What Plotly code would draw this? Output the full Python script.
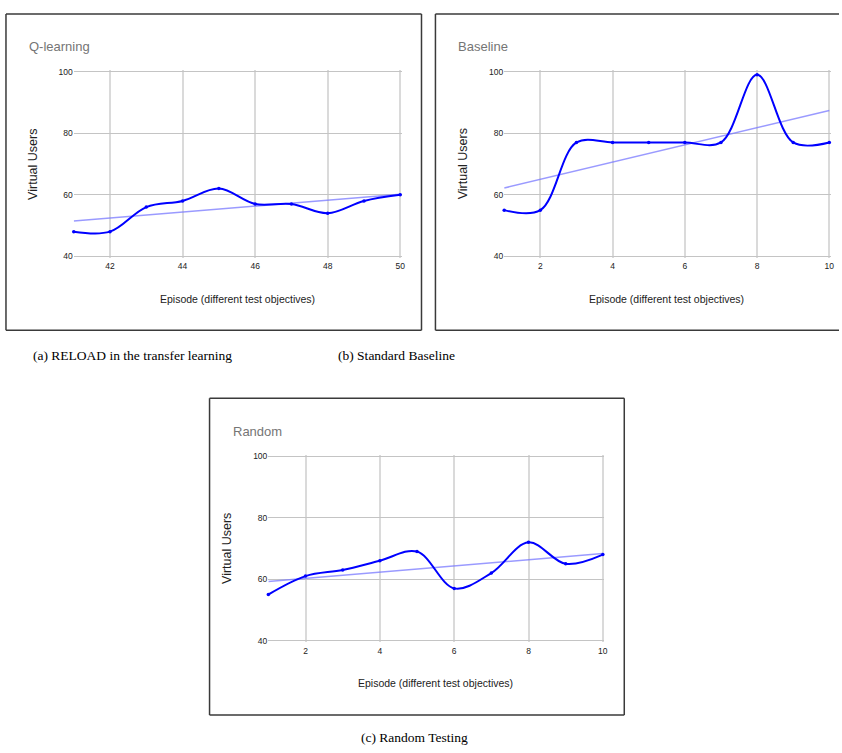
import numpy as np
import plotly.graph_objects as go

# ---------------- data ----------------
episodes_a = [41, 42, 43, 44, 45, 46, 47, 48, 49, 50]
users_a = [48, 48, 56, 58, 62, 57, 57, 54, 58, 60]

episodes_b = [1, 2, 3, 4, 5, 6, 7, 8, 9, 10]
users_b = [55, 55, 77, 77, 77, 77, 77, 99, 77, 77]

episodes_c = [1, 2, 3, 4, 5, 6, 7, 8, 9, 10]
users_c = [55, 61, 63, 66, 69, 57, 62, 72, 65, 68]

titles = ["Q-learning", "Baseline", "Random"]
captions = ["(a) RELOAD in the transfer learning", "(b) Standard Baseline", "(c) Random Testing"]
x_ticks_a = [42, 44, 46, 48, 50]
x_ticks_bc = [2, 4, 6, 8, 10]
y_ticks = [40, 60, 80, 100]
x_title = "Episode (different test objectives)"
y_title = "Virtual Users"

W, H = 842, 753


def px(x):
    return x / W


def py(y):
    return 1 - y / H


SANS = "Liberation Sans, Arial, sans-serif"
SERIF = "Liberation Serif, Times New Roman, serif"

fig = go.Figure()

panels = [
    dict(x=episodes_a, y=users_a, area=(74, 401.7, 69.3, 255.3), box=(6, 423, 11, 330),
         xr=[41, 50], xt=x_ticks_a, title=titles[0], tpos=(27, 44), right=True),
    dict(x=episodes_b, y=users_b, area=(506, 832.3, 69.3, 255.3), box=(437, 842, 11, 330),
         xr=[1, 10], xt=x_ticks_bc, title=titles[1], tpos=(458, 44), right=False),
    dict(x=episodes_c, y=users_c, area=(269.3, 605, 457, 642.7), box=(210.3, 626.5, 398.3, 717.7),
         xr=[1, 10], xt=x_ticks_bc, title=titles[2], tpos=(232, 432), right=True),
]

PAD = 1.6  # px of extra room so edge gridlines are drawn
layout = {}
annotations = []
shapes = []
for i, p in enumerate(panels):
    n = "" if i == 0 else str(i + 1)
    xa, ya = "x" + n, "y" + n
    l, r, t, b = p["area"]
    xs = np.array(p["x"], dtype=float)
    ys = np.array(p["y"], dtype=float)
    k, c0 = np.polyfit(xs, ys, 1)
    trend_x = [p["xr"][0], p["xr"][1]]
    trend_y = [k * v + c0 for v in trend_x]
    fig.add_trace(go.Scatter(x=trend_x, y=trend_y, mode="lines", xaxis=xa, yaxis=ya,
                             line=dict(color="rgba(120,120,255,0.75)", width=1.5),
                             showlegend=False, hoverinfo="skip"))
    fig.add_trace(go.Scatter(x=p["x"], y=p["y"], mode="lines+markers", xaxis=xa, yaxis=ya,
                             line=dict(color="#0000ff", width=2, shape="spline", smoothing=1.0),
                             marker=dict(color="#0000ff", size=3.5),
                             showlegend=False, cliponaxis=False))
    xppu = (r - l) / (p["xr"][1] - p["xr"][0])
    yppu = (b - t) / 60.0
    dx = PAD / xppu
    dy = PAD / yppu
    layout["xaxis" + n] = dict(domain=[px(l), px(r + PAD)], anchor=ya,
                               range=[p["xr"][0], p["xr"][1] + dx],
                               tickvals=p["xt"], showgrid=True, gridcolor="#dadada", gridwidth=2,
                               zeroline=False, showline=False, ticks="", ticklabelstandoff=2,
                               tickfont=dict(family=SANS, size=8.5, color="#222"))
    layout["yaxis" + n] = dict(domain=[py(b + PAD), py(t - PAD)], anchor=xa,
                               range=[40 - dy, 100 + dy],
                               tickvals=y_ticks, showgrid=True, gridcolor="#c4c4c4", gridwidth=1,
                               zeroline=False, showline=False, ticks="",
                               tickfont=dict(family=SANS, size=8.5, color="#222"))
    bl, br, bt, bb = p["box"]
    sides = [(bl, bt, br, bt), (bl, bt, bl, bb), (bl, bb, br, bb)]
    if p["right"]:
        sides.append((br, bt, br, bb))
    for (x0, y0, x1, y1) in sides:
        shapes.append(dict(type="line", xref="paper", yref="paper", x0=px(x0), x1=px(x1),
                           y0=py(y0), y1=py(y1), line=dict(color="#3a3a3a", width=1.5)))
    annotations.append(dict(text=p["title"], xref="paper", yref="paper", x=px(p["tpos"][0]),
                            y=py(p["tpos"][1]), xanchor="left", yanchor="middle", showarrow=False,
                            font=dict(family=SANS, size=13, color="#757575")))
    annotations.append(dict(text=x_title, xref="paper", yref="paper", x=px((l + r) / 2),
                            y=py(b + 43), xanchor="center", yanchor="middle", showarrow=False,
                            font=dict(family=SANS, size=10.5, color="#222")))
    annotations.append(dict(text=y_title, xref="paper", yref="paper", x=px(l - 41),
                            y=py((t + b) / 2), xanchor="center", yanchor="middle", showarrow=False,
                            textangle=-90, font=dict(family=SANS, size=12.5, color="#222")))

cap_pos = [(133, 355), (398, 355), (416, 740)]
for cap, (cx, cy) in zip(captions, cap_pos):
    annotations.append(dict(text=cap, xref="paper", yref="paper", x=px(cx), y=py(cy),
                            xanchor="center", yanchor="middle", showarrow=False,
                            font=dict(family=SERIF, size=13.5, color="#000")))

fig.update_layout(width=W, height=H, margin=dict(l=0, r=0, t=0, b=0),
                  paper_bgcolor="white", plot_bgcolor="white",
                  annotations=annotations, shapes=shapes, **layout)

fig.write_html("out.html")
